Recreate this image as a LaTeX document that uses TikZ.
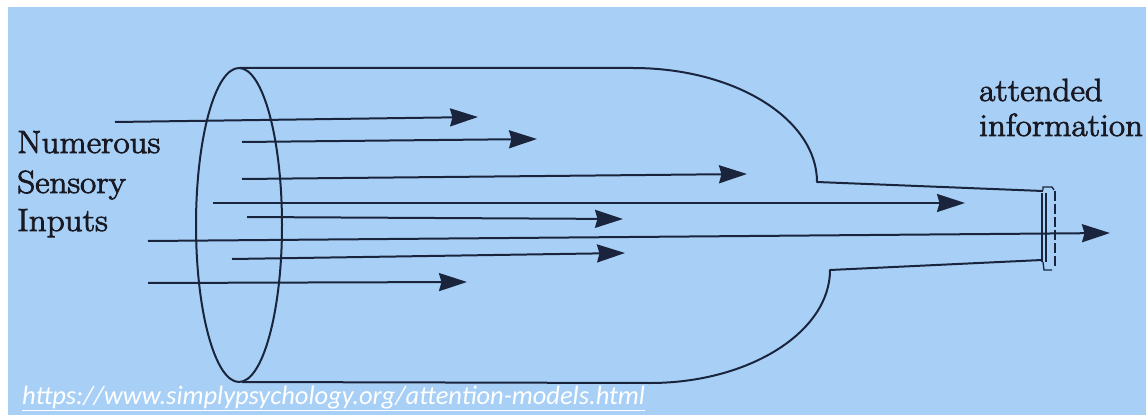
\documentclass[tikz,border=0pt]{standalone}
\usepackage{fontspec}
\newfontfamily\labfont{Latin Modern Roman}[FakeBold=2.6, FakeStretch=1.1]
\newfontfamily\linkfont{Carlito}
\usetikzlibrary{arrows.meta}
\definecolor{bgblue}{RGB}{168,208,246}
\definecolor{ink}{RGB}{26,36,60}
\definecolor{txt}{RGB}{25,25,35}
\tikzset{
  outline/.style={draw=ink, line width=2pt, line join=round},
  inarrow/.style={draw=ink, line width=2pt, -{Stealth[length=28pt,width=18pt,inset=2.5pt]}},
  lab/.style={anchor=base west, inner sep=0pt, text=txt, font=\labfont\fontsize{32}{36}\selectfont},
}
\begin{document}
\begin{tikzpicture}[x=1pt,y=-1pt]
\useasboundingbox (0,0) rectangle (1146,417);
\fill[white] (0,0) rectangle (1146,417);
\fill[bgblue] (8,7) rectangle (1146,415);

% bottle outline
\draw[outline] (239,225) ellipse [x radius=43pt, y radius=157pt];
\coordinate (topL) at (240,68);
\coordinate (topR) at (633,68);
\coordinate (neckT) at (817,182);
\coordinate (neckTe) at (1043,191);
\coordinate (botL) at (242,382);
\coordinate (botR) at (650,383);
\coordinate (neckB) at (830,270);
\coordinate (neckBe) at (1042,260);
\draw[outline] (topL) -- (topR) .. controls (735,68) and (817,119) .. (neckT) -- (neckTe);
\draw[outline] (botL) -- (botR) .. controls (749,383) and (830,332) .. (neckB) -- (neckBe);

% ring at the neck
\draw[draw=ink, line width=1.5pt] (1042,193) -- (1042,262);
\draw[draw=ink, line width=1.5pt] (1046,193) -- (1046,262);
\draw[draw=ink, line width=1.3pt] (1043,190) -- (1043,187) -- (1052,187) -- (1054,190);
\draw[draw=ink, line width=1.3pt] (1043,262) -- (1044,270) -- (1052,270);
\draw[draw=ink, line width=1.3pt, dashed, dash pattern=on 10pt off 3pt] (1055,191) -- (1055,268);

% arrows
\coordinate (a1s) at (115,122); \coordinate (a1e) at (478,117);
\coordinate (a2s) at (242,142); \coordinate (a2e) at (537,139);
\coordinate (a3s) at (242,179); \coordinate (a3e) at (747,174);
\coordinate (a4s) at (213,203); \coordinate (a4e) at (965,203);
\coordinate (a5s) at (247,217); \coordinate (a5e) at (623,219);
\coordinate (a6s) at (148,241); \coordinate (a6e) at (1110,233);
\coordinate (a7s) at (232,259); \coordinate (a7e) at (625,253);
\coordinate (a8s) at (148,283); \coordinate (a8e) at (467,282);
\foreach \i in {1,...,8} {\draw[inarrow] (a\i s) -- (a\i e);}

% labels
\node[lab] (n1) at (17,153) {Numerous};
\node[lab] (n2) at (17,193) {Sensory};
\node[lab] (n3) at (17,231) {Inputs};
\node[lab] (m1) at (979,101) {attended};
\node[lab] (m2) at (979,136) {information};

\node[anchor=base west, inner sep=0pt, text=white, font=\linkfont\itshape\fontsize{26.5}{28}\selectfont] (url) at (22,404) {\underline{https://www.simplypsychology.org/attention-models.html}};
\end{tikzpicture}
\end{document}
